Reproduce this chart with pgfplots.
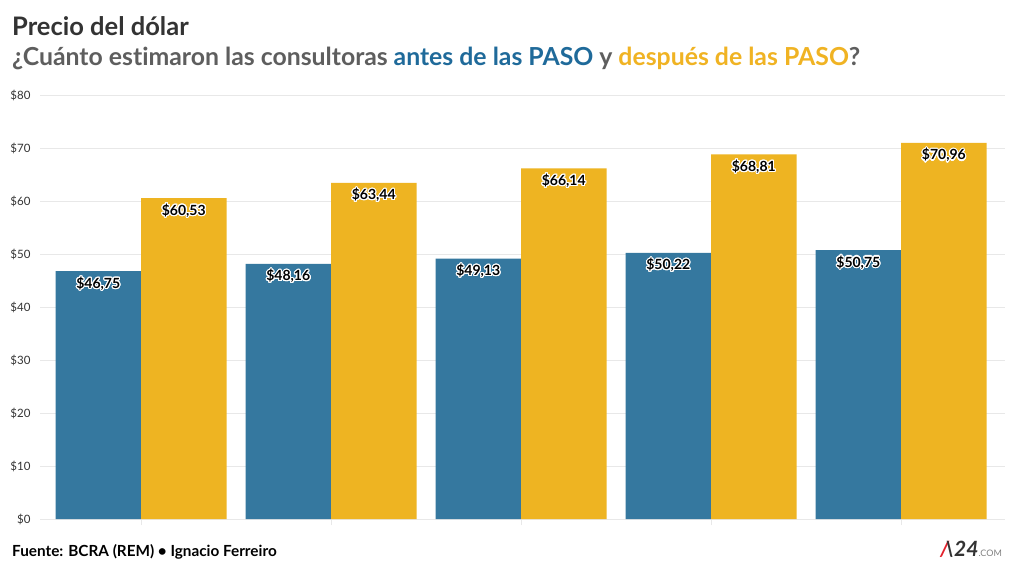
\documentclass[border=0pt]{standalone}
\usepackage{pgfplots}
\pgfplotsset{compat=1.18}
\usepackage{fontspec}
\setmainfont{Lato}[Ligatures={NoCommon}]
\usepackage[copies]{contour}
\contourlength{1.1pt}
\contournumber{24}

\definecolor{antes}{HTML}{35789F}
\definecolor{despues}{HTML}{EEB422}
\definecolor{antestxt}{HTML}{1F6A9A}
\definecolor{despuestxt}{HTML}{F0B323}
\definecolor{titgray}{HTML}{333333}
\definecolor{subgray}{HTML}{5E5E5E}
\definecolor{gridc}{HTML}{E8E8E8}
\definecolor{a24red}{HTML}{E3202B}

\begin{document}
\begin{tikzpicture}
\path[use as bounding box, fill=white] (0,0) rectangle (1024pt,576pt);

\node[anchor=base west, inner sep=0pt, text=titgray, font=\fontsize{25.5}{28}\selectfont\bfseries]
  at (12pt,540pt) {Precio del dólar};
\node[anchor=base west, inner sep=0pt, text=subgray, font=\fontsize{24.8}{28}\selectfont\bfseries]
  at (12pt,510pt) {¿Cuánto estimaron las consultoras \textcolor{antestxt}{antes de las PASO} y \textcolor{despuestxt}{después de las PASO}?};

\begin{axis}[
    at={(40pt,57pt)}, anchor=south west,
    scale only axis,
    width=965pt, height=424pt,
    ybar=0pt, bar width=85.5pt,
    xmin=-0.5316, xmax=4.547,
    ymin=0, ymax=80,
    ytick={0,10,...,80},
    yticklabel={\$\pgfmathprintnumber{\tick}},
    /pgf/number format/assume math mode=true,
    yticklabel style={font=\fontsize{11.5}{12}\selectfont, text=titgray},
    xtick={0,1,2,3,4},
    xticklabels={},
    xtick pos=bottom,
    ytick style={draw=none},
    xtick style={draw=gridc, line width=0.8pt},
    tick align=outside,
    major tick length=6pt,
    axis line style={draw=none},
    ymajorgrids=true,
    grid style={draw=gridc, line width=0.8pt},
    nodes near coords={\contour{white}{\$\pgfmathprintnumber[fixed,fixed zerofill,precision=2,use comma]{\pgfplotspointmeta}}},
    every node near coord/.append style={anchor=north, yshift=-2pt, font=\fontsize{14}{15}\selectfont\bfseries, text=black},
]
\addplot[fill=antes, draw=none] coordinates {(0,46.75) (1,48.16) (2,49.13) (3,50.22) (4,50.75)};
\addplot[fill=despues, draw=none] coordinates {(0,60.53) (1,63.44) (2,66.14) (3,68.81) (4,70.96)};
\end{axis}

\node[anchor=base west, inner sep=0pt, text=black, font=\fontsize{15.3}{16}\selectfont\bfseries]
  at (12pt,20pt) {Fuente: BCRA (REM) • Ignacio Ferreiro};
\node[anchor=base west, inner sep=0pt, font=\fontsize{21}{22}\selectfont\bfseries\itshape]
  at (940pt,20pt) {\textcolor{a24red}{/}\kern-4pt\textcolor{titgray}{\char`\\24}\textcolor{gray}{\fontsize{9}{10}\selectfont\upshape\mdseries .COM}};
\end{tikzpicture}
\end{document}
